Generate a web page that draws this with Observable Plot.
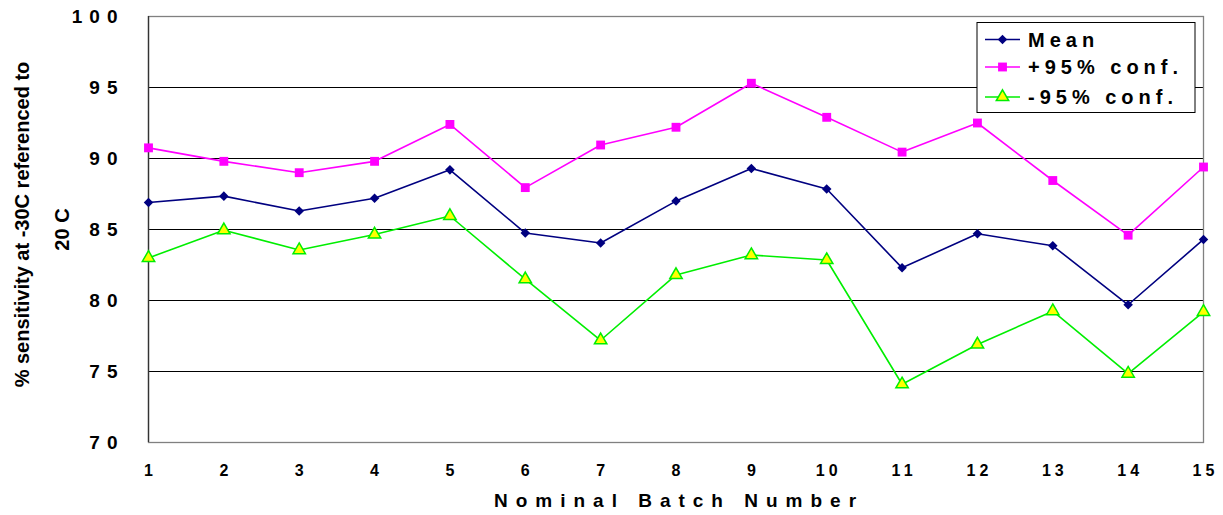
<!DOCTYPE html>
<html><head><meta charset="utf-8">
<script src="https://cdn.jsdelivr.net/npm/d3@7"></script>
<script src="https://cdn.jsdelivr.net/npm/@observablehq/plot@0.6"></script>
<style>body{margin:0;background:#fff}</style>
</head><body><div id="chart"></div>
<script>
const batches = [1,2,3,4,5,6,7,8,9,10,11,12,13,14,15];
const meanValues  = [86.9,87.35,86.3,87.2,89.2,84.75,84.05,87.0,89.3,87.85,82.3,84.7,83.85,79.7,84.3];
const upperValues = [90.75,89.8,89.0,89.8,92.4,87.95,90.95,92.2,95.3,92.9,90.45,92.5,88.45,84.6,89.4];
const lowerValues = [83.0,84.95,83.55,84.65,85.95,81.5,77.2,81.8,83.2,82.85,74.1,76.9,79.25,74.85,79.2];
const yTicks = [70,75,80,85,90,95,100];
const seriesNames = ["Mean","+95% conf.","-95% conf."];
const xTitle = "Nominal Batch Number";
const yTitle1 = "% sensitivity at -30C referenced to";
const yTitle2 = "20 C";

const series = [
  {name: seriesNames[0], values: meanValues, stroke: "#000080", fill: "#000080", symbol: "diamond2", r: 4.3},
  {name: seriesNames[1], values: upperValues, stroke: "#ff00ff", fill: "#ff00ff", symbol: "square", r: 5},
  {name: seriesNames[2], values: lowerValues, stroke: "#00ee00", fill: "#ffff00", symbol: "triangle", r: 4.6}
];
const rows = series.flatMap(s => batches.map((b, i) => ({batch: b, value: s.values[i], series: s.name})));

const FONT = "'Liberation Sans', Arial, sans-serif";
const marks = [
  Plot.ruleY(yTicks.filter(t => t > 70 && t < 100), {stroke: "#000", strokeWidth: 1, strokeOpacity: 1}),
  Plot.frame({stroke: "#808080", strokeWidth: 1.3}),
  Plot.ruleX([1], {stroke: "#333", strokeWidth: 1.3}),
  Plot.axisY({ticks: yTicks, label: null, tickSize: 0, tickPadding: 24, fontSize: 19, fontWeight: "bold", fontFamily: FONT, fill: "#000"}),
  Plot.axisX({ticks: batches, label: null, tickSize: 0, tickPadding: 22, tickFormat: d => String(d), fontSize: 16, fontWeight: "bold", fontFamily: FONT, fill: "#000", dx: 2}),
  Plot.text([yTitle1], {frameAnchor: "left", textAnchor: "middle", rotate: -90, dx: -126, dy: -5, fontSize: 20, fontWeight: "bold", fontFamily: FONT, fill: "#000"}),
  Plot.text([yTitle2], {frameAnchor: "left", textAnchor: "middle", rotate: -90, dx: -86, fontSize: 20, fontWeight: "bold", fontFamily: FONT, fill: "#000"}),
  Plot.text([xTitle], {frameAnchor: "bottom", textAnchor: "middle", dy: 64, dx: 3, fontSize: 19, fontWeight: "bold", fontFamily: FONT, fill: "#000"})
];
for (const s of series) {
  const d = rows.filter(r => r.series === s.name);
  marks.push(Plot.line(d, {x: "batch", y: "value", stroke: s.stroke, strokeWidth: 1.6}));
  marks.push(Plot.dot(d, {x: "batch", y: "value", symbol: s.symbol, r: s.r, fill: s.fill, stroke: s.name === seriesNames[2] ? s.stroke : "none", strokeWidth: 1.5}));
}

const chart = Plot.plot({
  width: 1223, height: 515,
  marginLeft: 148, marginRight: 20, marginTop: 16, marginBottom: 73,
  x: {domain: [1, 15], axis: null},
  y: {domain: [70, 100], axis: null},
  style: {fontFamily: FONT, background: "#fff"},
  marks
});
const svg = d3.select(chart);
const yTickStr = yTicks.map(String), xTickStr = batches.map(String);
svg.selectAll("text").each(function() {
  const t = this.textContent;
  if (yTickStr.includes(t)) this.style.letterSpacing = "7px";
  else if (xTickStr.includes(t)) this.style.letterSpacing = "4px";
  else if (t === xTitle) this.style.letterSpacing = "8px";
});

// legend
const lg = svg.append("g").attr("aria-label", "legend");
lg.append("rect").attr("x", 977).attr("y", 22.5).attr("width", 218).attr("height", 90)
  .attr("fill", "#fff").attr("stroke", "#000").attr("stroke-width", 1);
const rowY = [39.5, 67, 97];
series.forEach((s, i) => {
  const g = lg.append("g");
  g.append("line").attr("x1", 985).attr("x2", 1020).attr("y1", rowY[i]).attr("y2", rowY[i])
    .attr("stroke", s.stroke).attr("stroke-width", 1.6);
  const sym = {diamond2: d3.symbolDiamond2, square: d3.symbolSquare, triangle: d3.symbolTriangle}[s.symbol];
  g.append("path").attr("d", d3.symbol(sym, Math.PI * s.r * s.r)())
    .attr("transform", `translate(1002.5,${rowY[i]})`)
    .attr("fill", s.fill).attr("stroke", i === 2 ? s.stroke : "none").attr("stroke-width", 1.5);
  g.append("text").attr("x", 1028).attr("y", rowY[i]).attr("dy", "0.36em")
    .attr("text-anchor", "start")
    .attr("font-size", 20).attr("font-weight", "bold").attr("font-family", FONT)
    .style("letter-spacing", "5px").text(s.name);
});
document.getElementById("chart").append(chart);
</script>
</body></html>
